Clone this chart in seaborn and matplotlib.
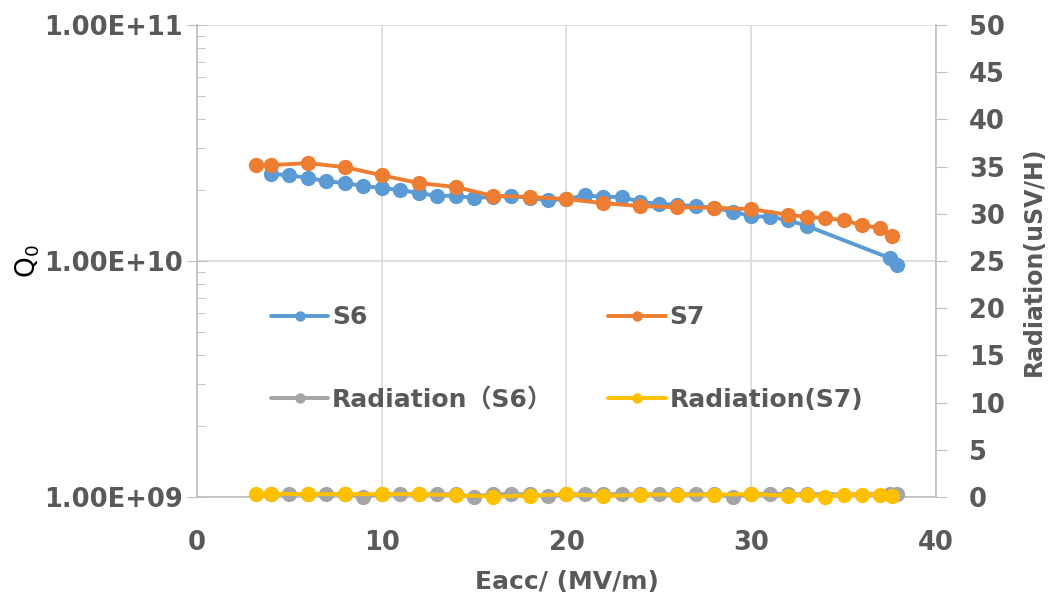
import numpy as np
import pandas as pd
import seaborn as sns
from matplotlib import pyplot as plt
from matplotlib.lines import Line2D
from matplotlib.ticker import FuncFormatter, LogLocator, NullFormatter

# S6 cavity
eacc_s6 = [4, 5, 6, 7, 8, 9, 10, 11, 12, 13, 14, 15, 16, 17, 18, 19, 20, 21, 22, 23,
           24, 25, 26, 27, 28, 29, 30, 31, 32, 33, 37.5, 37.9]
q0_s6 = [2.34e10, 2.31e10, 2.25e10, 2.18e10, 2.14e10, 2.08e10, 2.04e10, 2.00e10,
         1.94e10, 1.89e10, 1.89e10, 1.85e10, 1.87e10, 1.89e10, 1.85e10, 1.81e10,
         1.83e10, 1.90e10, 1.87e10, 1.87e10, 1.78e10, 1.75e10, 1.73e10, 1.71e10,
         1.68e10, 1.62e10, 1.55e10, 1.54e10, 1.49e10, 1.41e10, 1.03e10, 0.96e10]
rad_s6 = [0.3, 0.3, 0.3, 0.3, 0.3, 0.05, 0.3, 0.3, 0.3, 0.3, 0.3, 0.05, 0.3, 0.3, 0.3,
          0.1, 0.3, 0.3, 0.3, 0.3, 0.3, 0.3, 0.3, 0.3, 0.3, 0.05, 0.3, 0.35, 0.3, 0.3,
          0.3, 0.3]

# S7 cavity
eacc_s7 = [3.2, 4, 6, 8, 10, 12, 14, 16, 18, 20, 22, 24, 26, 28, 30, 32, 33, 34, 35,
           36, 37, 37.6]
q0_s7 = [2.55e10, 2.55e10, 2.60e10, 2.50e10, 2.31e10, 2.14e10, 2.06e10, 1.89e10,
         1.87e10, 1.83e10, 1.76e10, 1.71e10, 1.69e10, 1.68e10, 1.66e10, 1.57e10,
         1.54e10, 1.52e10, 1.49e10, 1.42e10, 1.38e10, 1.28e10]
rad_s7 = [0.35, 0.35, 0.3, 0.3, 0.3, 0.3, 0.2, 0.05, 0.15, 0.3, 0.1, 0.25, 0.25, 0.25,
          0.3, 0.15, 0.25, 0.05, 0.25, 0.25, 0.25, 0.15]

labels = ["S6", "S7", "Radiation（S6）", "Radiation(S7)"]
colors = ["#5B9BD5", "#ED7D31", "#A5A5A5", "#FFC000"]

sns.set_style("white")
plt.rcParams['font.family'] = ['DejaVu Sans', 'Noto Sans CJK SC']
txt = "#595959"
axc = "#BFBFBF"

fig = plt.figure(figsize=(10.48, 5.97), dpi=100)
ax = fig.add_axes([0.188, 0.1675, 0.705, 0.7905])
ax2 = ax.twinx()

s6 = pd.DataFrame({"x": eacc_s6, "q": q0_s6, "r": rad_s6})
s7 = pd.DataFrame({"x": eacc_s7, "q": q0_s7, "r": rad_s7})

kw = dict(marker="o", markersize=11, markeredgewidth=0, linewidth=2.8, legend=False,
          clip_on=False)
sns.lineplot(data=s6, x="x", y="q", ax=ax, color=colors[0], **kw)
sns.lineplot(data=s7, x="x", y="q", ax=ax, color=colors[1], **kw)
sns.lineplot(data=s6, x="x", y="r", ax=ax2, color=colors[2], **kw)
sns.lineplot(data=s7, x="x", y="r", ax=ax2, color=colors[3], **kw)

ax.set_yscale("log")
ax.set_ylim(1e9, 1e11)
ax.set_xlim(0, 40)
ax2.set_ylim(0, 50)
ax2.set_yticks(np.arange(0, 51, 5))
ax.set_xticks([0, 10, 20, 30, 40])

ax.yaxis.set_major_locator(LogLocator(base=10))
ax.yaxis.set_minor_locator(LogLocator(base=10, subs=np.arange(2, 10)))
ax.yaxis.set_major_formatter(FuncFormatter(lambda v, p: f"{v:.2E}"))
ax.yaxis.set_minor_formatter(NullFormatter())

ax.grid(True, which="major", color="#D9D9D9", linewidth=1.2)
ax.set_axisbelow(True)

for a in (ax, ax2):
    for s in a.spines.values():
        s.set_visible(False)
ax.spines["left"].set_visible(True)
ax.spines["bottom"].set_visible(True)
ax2.spines["right"].set_visible(True)
for s in (ax.spines["left"], ax.spines["bottom"], ax2.spines["right"]):
    s.set_color(axc)
    s.set_linewidth(1.2)

ax.tick_params(axis="y", which="major", direction="inout", length=14, color=axc,
               labelsize=18.5, labelcolor=txt, pad=3)
ax.tick_params(axis="y", which="minor", direction="in", length=6, color=axc)
ax.tick_params(axis="x", length=0, labelsize=18.5, labelcolor=txt, pad=24)
ax2.tick_params(axis="y", direction="out", length=8, color=axc,
                labelsize=18.5, labelcolor=txt, pad=16)
for t in ax.get_xticklabels() + ax.get_yticklabels() + ax2.get_yticklabels():
    t.set_fontweight("bold")

ax.set_xlabel("Eacc/ (MV/m)", fontsize=18, fontweight="bold", color=txt, labelpad=10)
ax.set_ylabel("Q$_0$", fontsize=19, color="black", labelpad=2)
ax2.set_ylabel("Radiation(uSV/H)", fontsize=17, fontweight="bold", color=txt, labelpad=12)

# legend: column order S6 / Radiation(S6), then S7 / Radiation(S7)
order = [0, 2, 1, 3]
handles = [Line2D([], [], color=colors[i], marker="o", markersize=7.5,
                  markeredgewidth=0, linewidth=2.8) for i in order]
names = [labels[i] for i in order]
leg = ax2.legend(handles, names, ncol=2, loc="center left", bbox_to_anchor=(0.1, 0.293),
                 frameon=False, borderpad=0, borderaxespad=0, handlelength=2.3,
                 handletextpad=0.15, columnspacing=2.2, labelspacing=2.35,
                 prop={"size": 18, "weight": "bold"})
for t in leg.get_texts():
    t.set_color(txt)

fig.savefig("out.png", dpi=100)
